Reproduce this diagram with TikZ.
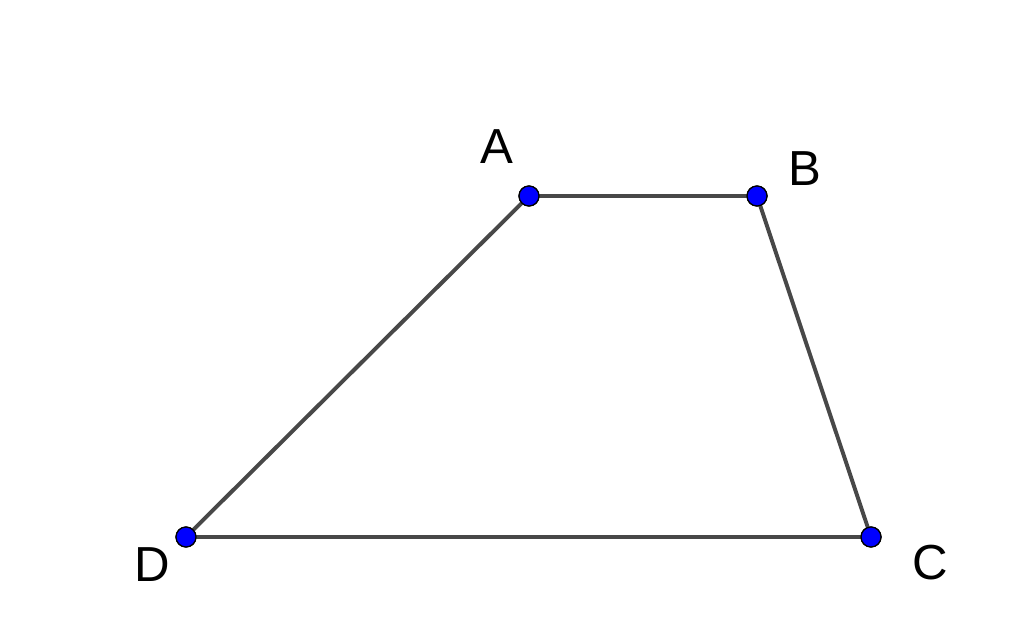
\documentclass[tikz,border=0pt]{standalone}
\usepackage{fontspec}
\setmainfont{Liberation Sans}
\begin{document}
\begin{tikzpicture}[
    pnt/.style={circle, fill=blue, draw=black, line width=0.9pt, inner sep=0pt, minimum size=0.5cm},
    lbl/.style={font=\fontsize{35}{40}\selectfont, inner sep=0pt},
    side/.style={draw={rgb,255:red,72;green,72;blue,72}, line width=2.8pt}
]
            \useasboundingbox (0,0) rectangle (25.6,15.725);

            \node[pnt] (A) at (13.225, 10.825) {};
            \node[pnt] (B) at (18.925, 10.825) {};
            \node[pnt] (C) at (21.775, 2.3) {};
            \node[pnt] (D) at (4.65, 2.3) {};

            \draw[side] (A.center) -- (B.center) -- (C.center) -- (D.center) -- cycle;
            \foreach \p in {A,B,C,D} \node[pnt] at (\p) {};

            \node[lbl] (lA) at (12.425, 12.05) {A};
            \node[lbl] (lB) at (20.125, 11.5) {B};
            \node[lbl] (lC) at (23.25, 1.65) {C};
            \node[lbl] (lD) at (3.8, 1.6) {D};
        \end{tikzpicture}
\end{document}
